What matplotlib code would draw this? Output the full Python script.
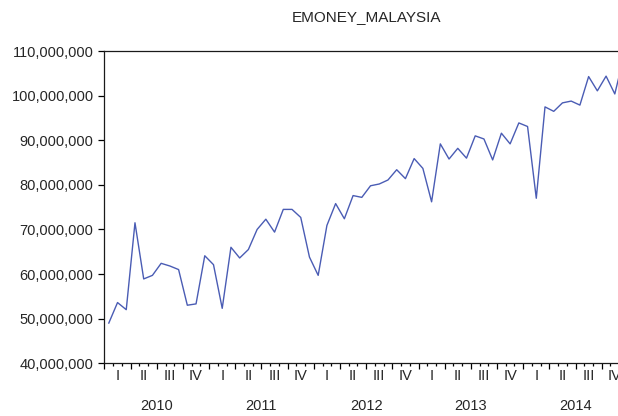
import matplotlib
matplotlib.use('Agg')
import matplotlib.pyplot as plt
import matplotlib.ticker as mticker
import numpy as np

plt.rcParams['font.family'] = ['Liberation Sans', 'DejaVu Sans']

# ── Data (monthly, millions) ───────────────────────────────────────────
years = ['2010', '2011', '2012', '2013', '2014']
quarters = ['I', 'II', 'III', 'IV']
emoney_m = [
    49.0, 53.6, 52.0, 71.5, 58.9, 59.7, 62.4, 61.8, 61.0, 53.0, 53.3, 64.1,   # 2010
    62.1, 52.3, 66.0, 63.6, 65.5, 70.0, 72.3, 69.4, 74.5, 74.5, 72.7, 63.8,   # 2011
    59.7, 70.9, 75.8, 72.4, 77.6, 77.2, 79.8, 80.2, 81.1, 83.4, 81.4, 85.9,   # 2012
    83.7, 76.2, 89.2, 85.8, 88.2, 86.0, 91.0, 90.3, 85.6, 91.6, 89.2, 93.9,   # 2013
    93.1, 77.0, 97.5, 96.5, 98.4, 98.8, 97.9, 104.3, 101.1, 104.4, 100.4, 108.5,  # 2014
]
values = np.array(emoney_m) * 1e6
months = np.arange(len(values)) + 0.5

TXT = '#262626'

fig = plt.figure(figsize=(6.18, 4.16), dpi=100)
# right edge of the axes runs past the figure (reference is cropped there)
ax = fig.add_axes([0.169, 0.127, 0.847, 0.750])

ax.plot(months, values, color='#4a5cb4', lw=1.0)

ax.set_xlim(0, len(values))
ax.set_ylim(40e6, 110e6)

# ── Y axis ────────────────────────────────────────────────────────────
ax.yaxis.set_major_locator(mticker.MultipleLocator(10e6))
ax.yaxis.set_major_formatter(mticker.FuncFormatter(lambda v, p: f'{v:,.0f}'))
ax.tick_params(axis='y', direction='out', length=4.3, width=0.9, pad=3.5,
               labelsize=10.5, labelcolor=TXT)

# ── X axis: month ticks, quarter ticks longer ─────────────────────────
ax.xaxis.set_major_locator(mticker.MultipleLocator(3))
ax.xaxis.set_minor_locator(mticker.MultipleLocator(1))
ax.xaxis.set_major_formatter(mticker.NullFormatter())
ax.tick_params(axis='x', which='major', direction='out', length=4.0, width=0.9)
ax.tick_params(axis='x', which='minor', direction='out', length=2.5, width=0.9)

for k in range(len(values) // 3):
    ax.text(1.5 + 3 * k, -0.041, quarters[k % 4], transform=ax.get_xaxis_transform(),
            ha='center', va='center', fontsize=10.5, color=TXT)
for j, yr in enumerate(years):
    ax.text(6 + 12 * j, -0.137, yr, transform=ax.get_xaxis_transform(),
            ha='center', va='center', fontsize=10.5, color=TXT)

for s in ax.spines.values():
    s.set_linewidth(0.9)
    s.set_color('#1a1a1a')

ax.set_title('EMONEY_MALAYSIA', fontsize=11, color=TXT, pad=22)

fig.savefig('out.png', dpi=100)
